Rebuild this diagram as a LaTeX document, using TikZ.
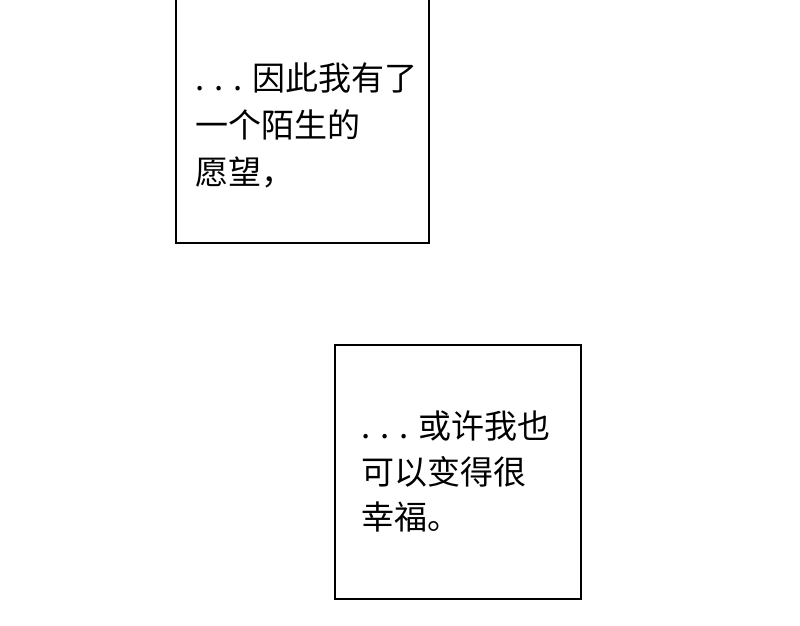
\documentclass[tikz,border=0pt]{standalone}
\usepackage{fontspec}
\newfontfamily\cjk{Noto Sans CJK SC}
\usetikzlibrary{positioning}

\begin{document}
\begin{tikzpicture}[x=1pt, y=-1pt,
	panel/.style = {draw, black, line width = 2pt, inner sep = 0, minimum width = 253pt},
	words/.style = {inner sep = 0, text height = 29pt, text depth = 4pt, font = \cjk\fontsize{33}{33}\selectfont}]
			\clip (0,0) rectangle (800,625);
			\fill[white] (0,0) rectangle (800,625);
			
			\node[panel, minimum height = 273pt] (P) at (302.5,106.5) {};
			\node[panel, minimum width = 246pt, minimum height = 254pt] (Q) at (458,472) {};
			
			\node[words, below right = 92.5pt and 20pt of P.north west] (A) {. . . 因此我有了};
			\node[words, below = 13.5pt of A.south west, anchor = north west] (B) {一个陌生的};
			\node[words, below = 13.5pt of B.south west, anchor = north west] (C) {愿望，};
			
			\node[words, below right = 65.5pt and 27pt of Q.north west] (D) {. . . 或许我也};
			\node[words, below = 12pt of D.south west, anchor = north west] (E) {可以变得很};
			\node[words, below = 12pt of E.south west, anchor = north west] (F) {幸福。};
			\end{tikzpicture}
\end{document}
